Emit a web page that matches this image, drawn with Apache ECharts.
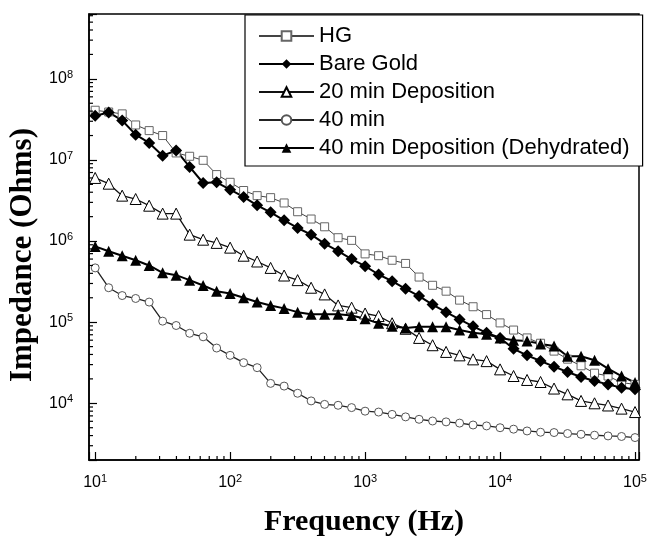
<!DOCTYPE html>
<html>
<head>
<meta charset="utf-8">
<script src="https://cdn.jsdelivr.net/npm/echarts@6/dist/echarts.min.js"></script>
<style>
  html, body { margin: 0; padding: 0; background: #fff; }
  #chart { width: 649px; height: 536px; }
</style>
</head>
<body>
<div id="chart"></div>
<script>
// frequency points, 10 per decade (Hz)
const frequency = [10, 12.59, 15.85, 19.95, 25.12, 31.62, 39.81, 50.12, 63.1, 79.43,
  100, 125.9, 158.5, 199.5, 251.2, 316.2, 398.1, 501.2, 631, 794.3,
  1000, 1259, 1585, 1995, 2512, 3162, 3981, 5012, 6310, 7943,
  10000, 12589, 15849, 19953, 25119, 31623, 39811, 50119, 63096, 79433, 100000];

const seriesNames = ['HG', 'Bare Gold', '20 min Deposition', '40 min', '40 min Deposition (Dehydrated)'];

const hg = [4.1e7, 3.9e7, 3.7e7, 2.7e7, 2.3e7, 2.0e7, 1.22e7, 1.11e7, 9.9e6, 6.6e6,
  5.3e6, 4.2e6, 3.63e6, 3.43e6, 2.95e6, 2.3e6, 1.87e6, 1.5e6, 1.1e6, 1.02e6,
  6.95e5, 6.6e5, 5.8e5, 5.3e5, 3.6e5, 2.85e5, 2.41e5, 1.87e5, 1.55e5, 1.24e5,
  9.8e4, 8.0e4, 6.4e4, 5.5e4, 4.4e4, 3.5e4, 2.9e4, 2.35e4, 2.17e4, 1.8e4, 1.71e4];

const bareGold = [3.5e7, 3.85e7, 3.07e7, 2.05e7, 1.62e7, 1.13e7, 1.31e7, 8.2e6, 5.2e6, 5.3e6,
  4.3e6, 3.5e6, 2.76e6, 2.26e6, 1.8e6, 1.45e6, 1.2e6, 9.3e5, 7.5e5, 6.0e5,
  4.9e5, 3.87e5, 3.2e5, 2.58e5, 2.1e5, 1.65e5, 1.33e5, 1.08e5, 8.9e4, 7.4e4,
  6.4e4, 4.7e4, 3.9e4, 3.32e4, 2.83e4, 2.43e4, 2.11e4, 1.88e4, 1.71e4, 1.56e4, 1.49e4];

const min20 = [6.0e6, 5.1e6, 3.63e6, 3.3e6, 2.73e6, 2.18e6, 2.18e6, 1.2e6, 1.04e6, 9.5e5,
  8.3e5, 6.6e5, 5.6e5, 4.67e5, 3.76e5, 3.3e5, 2.66e5, 2.2e5, 1.61e5, 1.51e5,
  1.28e5, 1.19e5, 9.7e4, 8.3e4, 6.4e4, 5.2e4, 4.3e4, 3.9e4, 3.48e4, 3.31e4,
  2.62e4, 2.17e4, 1.94e4, 1.83e4, 1.52e4, 1.29e4, 1.07e4, 1.0e4, 9.4e3, 8.6e3, 7.8e3];

const min40 = [4.67e5, 2.66e5, 2.13e5, 1.96e5, 1.77e5, 1.03e5, 9.1e4, 7.3e4, 6.6e4, 4.8e4,
  3.9e4, 3.17e4, 2.75e4, 1.76e4, 1.63e4, 1.33e4, 1.07e4, 9.7e3, 9.45e3, 8.85e3,
  8.0e3, 7.8e3, 7.3e3, 6.8e3, 6.35e3, 6.05e3, 5.9e3, 5.7e3, 5.4e3, 5.26e3,
  5.0e3, 4.8e3, 4.56e3, 4.4e3, 4.36e3, 4.24e3, 4.15e3, 4.04e3, 3.96e3, 3.9e3, 3.78e3];

const dehydrated = [8.6e5, 7.5e5, 6.6e5, 5.8e5, 5.0e5, 4.06e5, 3.8e5, 3.3e5, 2.83e5, 2.41e5,
  2.26e5, 2.0e5, 1.77e5, 1.61e5, 1.48e5, 1.33e5, 1.25e5, 1.25e5, 1.25e5, 1.21e5,
  1.10e5, 9.7e4, 8.9e4, 8.5e4, 8.8e4, 8.8e4, 8.8e4, 8.0e4, 7.4e4, 7.1e4,
  6.4e4, 6.0e4, 5.85e4, 5.4e4, 5.1e4, 3.8e4, 3.8e4, 3.4e4, 2.67e4, 2.17e4, 1.8e4];

// axis ranges and minor tick positions
const xMin = 9, xMax = 1.07e5;
const yMin = 2000, yMax = 6.3e8;
const minorSteps = [2, 3, 4, 5, 6, 7, 8, 9];
const xMinorDecades = [10, 100, 1000, 10000];
const yMinorDecades = [1e3, 1e4, 1e5, 1e6, 1e7, 1e8];

const minorValues = (decades, lo, hi) => {
  const out = [];
  decades.forEach(d => minorSteps.forEach(s => {
    const v = d * s;
    if (v > lo && v < hi) out.push(v);
  }));
  return out;
};
const xMinor = minorValues(xMinorDecades, xMin, xMax);
const yMinor = minorValues(yMinorDecades, yMin, yMax);

const pairs = ys => frequency.map((f, i) => [f, ys[i]]);

const powLabel = value => {
  const e = Math.round(Math.log10(value));
  if (Math.abs(value - Math.pow(10, e)) / value > 1e-6) return '';
  return '10{sup|' + e + '}';
};

const tickLabel = {
  color: '#000',
  fontFamily: 'Liberation Sans',
  fontSize: 16,
  lineHeight: 19,
  formatter: powLabel,
  rich: {
    sup: { fontFamily: 'Liberation Sans', fontSize: 11, lineHeight: 11, verticalAlign: 'top', color: '#000' }
  }
};

const titleFont = { fontFamily: 'Liberation Serif', fontWeight: 'bold', color: '#000' };

const chart = echarts.init(document.getElementById('chart'));

chart.setOption({
  animation: false,
  backgroundColor: '#fff',
  grid: {
    left: 89, right: 10, top: 14, bottom: 76,
    outerBoundsMode: 'none',
    containLabel: false,
    show: true, borderColor: '#000', borderWidth: 1.5
  },
  legend: {
    data: seriesNames,
    orient: 'vertical',
    left: 245, top: 15,
    selectedMode: false,
    itemWidth: 55, itemHeight: 12, itemGap: 6,
    padding: [10, 13, 7, 13],
    borderColor: '#000', borderWidth: 1.2,
    backgroundColor: '#fff',
    textStyle: { fontFamily: 'Liberation Sans', fontSize: 22, lineHeight: 20, color: '#000' }
  },
  xAxis: {
    type: 'log', logBase: 10, min: xMin, max: xMax,
    axisLine: { onZero: false, lineStyle: { color: '#000', width: 1.5 } },
    axisTick: { inside: true, length: 8, lineStyle: { color: '#000', width: 1.2 } },
    splitLine: { show: false },
    axisLabel: Object.assign({ margin: 13 }, tickLabel),
    name: 'Frequency (Hz)', nameLocation: 'middle', nameGap: 47,
    nameTextStyle: Object.assign({ fontSize: 30 }, titleFont)
  },
  yAxis: {
    type: 'log', logBase: 10, min: yMin, max: yMax,
    axisLine: { onZero: false, lineStyle: { color: '#000', width: 1.5 } },
    axisTick: { inside: true, length: 8, lineStyle: { color: '#000', width: 1.2 } },
    splitLine: { show: false },
    axisLabel: Object.assign({ margin: 16 }, tickLabel),
    name: 'Impedance (Ohms)', nameLocation: 'middle', nameGap: 46,
    nameTextStyle: Object.assign({ fontSize: 31, padding: [0, 36, 0, 0] }, titleFont)
  },
  series: [
    {
      name: seriesNames[0], type: 'line', data: pairs(hg),
      symbol: 'rect', symbolSize: 8, showAllSymbol: true,
      lineStyle: { width: 1, color: '#444' },
      itemStyle: { color: '#fff', borderColor: '#666', borderWidth: 1 }
    },
    {
      name: seriesNames[1], type: 'line', data: pairs(bareGold),
      symbol: 'diamond', symbolSize: 12, showAllSymbol: true,
      lineStyle: { width: 2, color: '#000' },
      itemStyle: { color: '#000' }
    },
    {
      name: seriesNames[2], type: 'line', data: pairs(min20),
      symbol: 'triangle', symbolSize: 11, showAllSymbol: true,
      lineStyle: { width: 1.3, color: '#111' },
      itemStyle: { color: '#fff', borderColor: '#000', borderWidth: 1 }
    },
    {
      name: seriesNames[3], type: 'line', data: pairs(min40),
      symbol: 'circle', symbolSize: 8, showAllSymbol: true,
      lineStyle: { width: 1.3, color: '#222' },
      itemStyle: { color: '#fff', borderColor: '#555', borderWidth: 1 }
    },
    {
      name: seriesNames[4], type: 'line', data: pairs(dehydrated),
      symbol: 'triangle', symbolSize: 11, showAllSymbol: true,
      lineStyle: { width: 2, color: '#000' },
      itemStyle: { color: '#000' }
    },
    {
      // minor ticks on the frequency axis
      type: 'custom', silent: true, z: 5,
      data: xMinor.map(v => [v, yMin]),
      renderItem: (params, api) => {
        const p = api.coord([api.value(0), api.value(1)]);
        return { type: 'line', shape: { x1: p[0], y1: p[1], x2: p[0], y2: p[1] - 4 },
          style: { stroke: '#000', lineWidth: 1.2 } };
      }
    },
    {
      // minor ticks on the impedance axis
      type: 'custom', silent: true, z: 5,
      data: yMinor.map(v => [xMin, v]),
      renderItem: (params, api) => {
        const p = api.coord([api.value(0), api.value(1)]);
        return { type: 'line', shape: { x1: p[0], y1: p[1], x2: p[0] + 4, y2: p[1] },
          style: { stroke: '#000', lineWidth: 1.2 } };
      }
    }
  ]
});
</script>
</body>
</html>
